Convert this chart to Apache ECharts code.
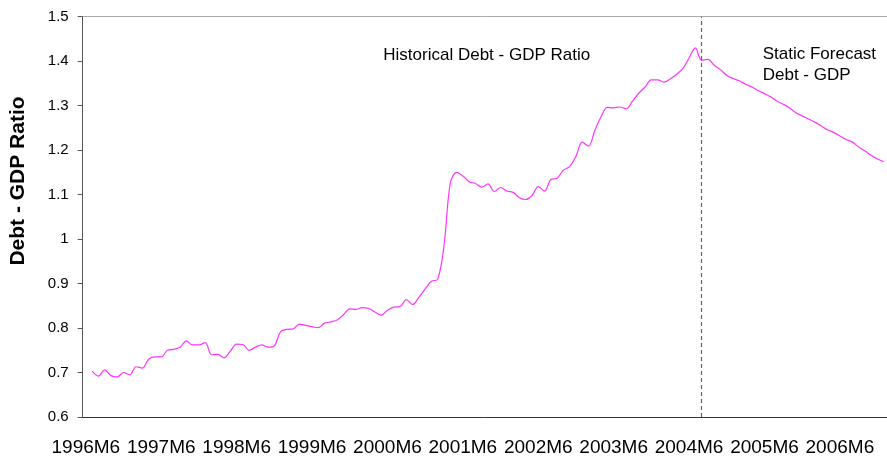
<!DOCTYPE html>
<html>
<head>
<meta charset="utf-8">
<script src="https://cdn.jsdelivr.net/npm/echarts@6/dist/echarts.min.js"></script>
<style>
html,body{margin:0;padding:0;background:#fff;}
#chart{width:887px;height:457px;}
</style>
</head>
<body>
<div id="chart"></div>
<script>
// Category range: monthly, 1996M6 .. 2007M1
const startYear = 1996, startMonth = 6, monthCount = 128;
const categories = [];
for (let k = 0; k < monthCount; k++) {
  const m0 = startMonth - 1 + k;
  categories.push((startYear + Math.floor(m0 / 12)) + 'M' + (m0 % 12 + 1));
}

// Debt - GDP ratio (historical, then static forecast)
const debtGdpRatio = [
  null, 0.703, 0.692, 0.706, 0.693, 0.690, 0.700, 0.695, 0.713, 0.710,
  0.730, 0.735, 0.735, 0.750, 0.752, 0.757, 0.771, 0.762, 0.762, 0.767,
  0.740, 0.741, 0.733, 0.748, 0.764, 0.763, 0.750, 0.757, 0.762, 0.757,
  0.760, 0.792, 0.797, 0.798, 0.809, 0.806, 0.803, 0.801, 0.811, 0.814,
  0.818, 0.830, 0.843, 0.842, 0.846, 0.844, 0.836, 0.829, 0.840, 0.847,
  0.848, 0.864, 0.853, 0.869, 0.888, 0.905, 0.910, 0.985, 1.125, 1.150,
  1.142, 1.129, 1.125, 1.117, 1.124, 1.107, 1.116, 1.108, 1.105, 1.093,
  1.089, 1.098, 1.118, 1.108, 1.134, 1.137, 1.155, 1.163, 1.186, 1.218,
  1.209, 1.244, 1.275, 1.296, 1.295, 1.297, 1.293, 1.310, 1.328, 1.342,
  1.358, 1.358, 1.353, 1.360, 1.370, 1.383, 1.407, 1.430, 1.402, 1.404,
  1.391, 1.381, 1.368, 1.361, 1.356, 1.348, 1.342, 1.334, 1.327, 1.320,
  1.310, 1.303, 1.295, 1.284, 1.277, 1.270, 1.263, 1.255, 1.246, 1.240,
  1.232, 1.224, 1.218, 1.207, 1.198, 1.188, 1.180, 1.174
];

const forecastStart = '2004M8';
const yMin = 0.6, yMax = 1.5, yStep = 0.1;
const yTitle = 'Debt - GDP Ratio';
const histLabel = 'Historical Debt - GDP Ratio';
const fcLabel1 = 'Static Forecast';
const fcLabel2 = 'Debt - GDP';

const chart = echarts.init(document.getElementById('chart'), null, {renderer: 'canvas'});
const font = '"Liberation Sans", Arial, sans-serif';

chart.setOption({
  animation: false,
  backgroundColor: '#ffffff',
  grid: {left: 82.7, top: 16.7, width: 809.2, height: 402.6, containLabel: false},
  xAxis: [{
    type: 'category',
    data: categories,
    boundaryGap: true,
    axisLine: {lineStyle: {color: '#333', width: 1}},
    axisTick: {interval: 5, length: 6, lineStyle: {color: '#555'}},
    axisLabel: {interval: 11, fontSize: 19, color: '#000', fontFamily: font, margin: 21},
    splitLine: {show: false}
  }, {
    type: 'category',
    data: categories,
    position: 'top',
    boundaryGap: true,
    axisLine: {lineStyle: {color: '#aaa', width: 1}},
    axisTick: {show: false},
    axisLabel: {show: false},
    splitLine: {show: false}
  }],
  yAxis: {
    type: 'value',
    min: yMin, max: yMax, interval: yStep,
    axisLine: {show: true, lineStyle: {color: '#555', width: 1}},
    axisTick: {show: true, length: 5, lineStyle: {color: '#555'}},
    axisLabel: {fontSize: 15, color: '#000', fontFamily: font, margin: 14},
    splitLine: {show: false}
  },
  series: [{
    type: 'line',
    data: debtGdpRatio,
    smooth: 0.35,
    showSymbol: false,
    connectNulls: false,
    lineStyle: {color: '#ff33ff', width: 1.2},
    markLine: {
      silent: true,
      symbol: 'none',
      label: {show: false},
      lineStyle: {color: '#666', type: [4, 3], width: 1.2},
      data: [{xAxis: forecastStart}]
    }
  }],
  graphic: [
    {type: 'text', x: 18.5, y: 181, rotation: Math.PI / 2,
     style: {text: yTitle, font: 'bold 21px ' + font, fill: '#000', align: 'center', verticalAlign: 'middle'}},
    {type: 'text', x: 383.3, y: 55.8,
     style: {text: histLabel, font: '17px ' + font, fill: '#000', align: 'left', verticalAlign: 'middle'}},
    {type: 'text', x: 762.7, y: 54.1,
     style: {text: fcLabel1, font: '17px ' + font, fill: '#000', align: 'left', verticalAlign: 'middle'}},
    {type: 'text', x: 762.7, y: 75.8,
     style: {text: fcLabel2, font: '17px ' + font, fill: '#000', align: 'left', verticalAlign: 'middle'}}
  ]
});
</script>
</body>
</html>
